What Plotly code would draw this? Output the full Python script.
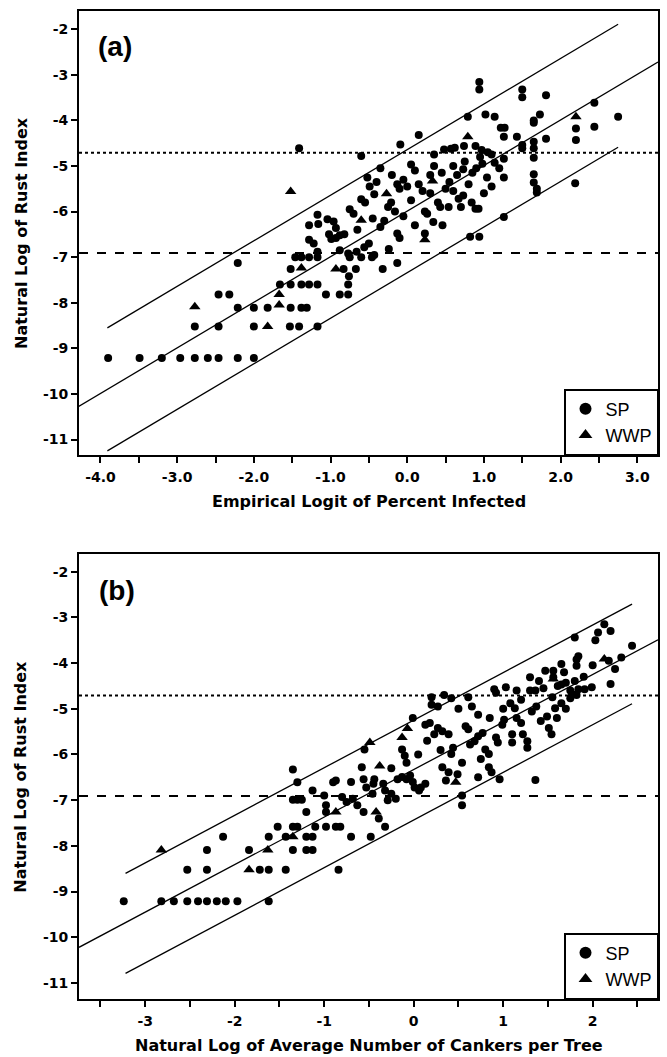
import plotly.graph_objects as go

# ---- panel (a): empirical logit of percent infected vs ln(rust index) ----
a_sp_x = [
    -3.9, -3.49, -3.2, -2.96, -2.77, -2.6, -2.46, -2.21, -2.0,
    -2.77, -2.46, -2.0, -1.53, -1.41, -1.17,
    -2.21, -2.0, -1.82, -1.52, -1.38, -1.31,
    -2.46, -2.32, -1.06, -0.88, -0.77,
    -1.66, -1.52, -1.38, -1.28, -1.17, -0.77,
    -0.76, -1.52, -0.83, -0.67, -0.32, -2.21, -0.13,
    -1.46, -1.38, -1.28, -1.17, -0.75, -0.6, -0.46,
    -0.88, -0.77, -0.66, -0.56, -0.5, -0.24, -0.43,
    -1.28, -1.17, -1.16, -1.04, -0.96, -0.93, -1.28, -1.22, -1.17, -1.02,
    -0.99, -0.93, -0.88, -0.82,
    -0.6, -0.55, -0.52, -0.49, -0.43, -0.4, -0.35, -0.25, -0.21, -0.16,
    -0.13, -0.1, 0.0, -0.13, -0.1, -0.2, -0.05,
    0.05, 0.1, 0.23, 0.26, 0.23, 0.34, 0.46, 0.4, 0.43, 0.5, 0.54, 0.15, 0.2, 0.3,
    0.55, 0.65, 0.73, 0.67, 0.73, 0.84, 0.89, 0.93, 0.82, 0.94, 0.9, 0.98,
    1.04, 1.14, 1.26, 1.26, 1.65, 1.65, 1.69, 1.69, 2.19, 0.6, 0.75, 0.85,
    0.48, 0.57, 0.62, 0.74, 0.89, 0.97, 1.05, 0.35, 0.15, -0.09, -0.6, -1.41,
    1.26, 1.22, 1.27, 1.26, 1.43, 1.5, 1.5, 1.65, 1.65, 1.73, 1.81, 1.81,
    1.5, 1.5, 1.65, 1.65, 1.65, 2.2, 2.2, 2.44, 2.44, 2.75,
    0.79, 0.94, 0.94, 1.02, 1.14,
    -0.7, -0.65, -0.45, -0.3, -0.05, 0.05, 0.1, 0.3, 0.35, 0.45,
    0.6, 0.7, 0.8, 1.0, 1.1, -0.35, -0.75, 0.95, 1.1, 1.2,
]
a_sp_y = [
    -9.21, -9.21, -9.21, -9.21, -9.21, -9.21, -9.21, -9.21, -9.21,
    -8.52, -8.52, -8.52, -8.52, -8.52, -8.52,
    -8.11, -8.11, -8.11, -8.11, -8.11, -8.11,
    -7.82, -7.82, -7.82, -7.82, -7.82,
    -7.6, -7.6, -7.6, -7.6, -7.6, -7.6,
    -7.42, -7.26, -7.26, -7.26, -7.26, -7.13, -7.13,
    -7.0, -7.0, -7.0, -7.0, -7.0, -7.0, -7.0,
    -6.85, -6.92, -6.88, -6.78, -6.7, -6.82, -6.95,
    -6.3, -6.07, -6.27, -6.17, -6.22, -6.36, -6.62, -6.7, -6.88, -6.5,
    -6.6, -6.58, -6.52, -6.5,
    -5.73, -5.8, -5.25, -5.45, -5.62, -5.35, -6.34, -5.9, -5.8, -6.0,
    -5.4, -5.5, -5.45, -6.48, -6.58, -5.2, -5.3,
    -4.97, -5.1, -6.0, -6.05, -6.48, -6.23, -6.3, -5.8, -5.9, -5.5, -5.9, -5.4, -5.55, -5.6,
    -5.35, -5.2, -5.07, -5.72, -5.65, -5.8, -5.94, -5.94, -6.55, -6.55, -5.05, -4.95,
    -5.25, -4.93, -5.25, -6.12, -5.18, -5.36, -5.5, -5.58, -5.38, -5.0, -4.9, -5.15,
    -4.64, -4.62, -4.6, -4.56, -4.56, -4.65, -4.7, -4.75, -4.32, -4.53, -4.78, -4.61,
    -4.84, -4.16, -4.16, -4.36, -4.36, -3.32, -3.49, -4.0, -4.05, -3.87, -3.45, -4.4,
    -4.54, -4.61, -4.47, -4.61, -4.82, -4.18, -4.43, -3.61, -4.14, -3.92,
    -3.92, -3.16, -3.32, -3.87, -3.92,
    -6.05, -6.4, -6.15, -6.2, -6.1, -5.75, -6.3, -5.2, -5.0, -5.15,
    -5.55, -5.9, -5.4, -5.6, -5.45, -5.05, -5.95, -4.8, -4.75, -5.05,
]
a_wwp_x = [-2.77, -1.82, -1.67, -1.67, -1.38, -0.93, -0.6, -1.52, -0.27, 0.23, 0.33, 0.79, 2.2]
a_wwp_y = [-8.09, -8.52, -8.05, -7.82, -7.24, -7.26, -6.19, -5.56, -5.61, -6.62, -5.33, -4.36, -3.92]

# ---- panel (b): ln(average cankers per tree) vs ln(rust index) ----
b_sp_x = [
    -3.24, -2.82, -2.68, -2.53, -2.41, -2.31, -2.2, -2.1, -1.97, -1.62,
    -2.53, -2.31, -1.72, -1.62, -1.43, -0.84,
    -2.31, -1.84, -1.35, -1.2, -1.13,
    -2.13, -1.62, -1.43, -1.2, -1.13, -0.7, -0.48,
    -1.52, -1.35, -1.3, -1.1, -0.98, -0.87, -0.82, -0.32,
    -1.2, -0.98, -0.56,
    -0.98, -1.35, -1.3, -1.35, -1.3, -1.25, -1.13, -0.9, -0.87, -0.8, -0.75,
    -0.68, -0.63, -0.58, -0.56, -0.53, -0.55, -0.46, -0.45, -0.44, -0.39,
    -0.34, -0.32, -0.29, -0.25, -0.2, -0.18, -0.13, -0.08, -0.13, -0.1,
    -0.08, -0.04, -0.01, 0.01, -0.01, 0.06, 0.08, 0.13, 0.2, 0.27,
    0.34, 0.42, 0.13, 0.18, 0.23, 0.27, 0.32, 0.39, 0.32, 0.39,
    0.36, 0.42, 0.44, 0.49, 0.54, 0.54, 0.54, 0.58, 0.61, 0.63,
    0.68, 0.72, 0.77, 0.8, 0.84, 0.72, 0.84, 0.87, 0.92, 0.94,
    0.99, 1.01, 1.08, 1.13, 1.15, 1.2, 1.22, 1.27, 1.32, 1.37,
    1.42, 1.49, 1.51, 1.54, 1.58, 1.65, 1.75, 1.82, 1.27, 1.1,
    1.1, 1.36, 0.96, 0.65, 0.72,
    0.2, 0.61, 0.9, 0.92, 1.03, 1.3, 1.3, 1.36, 1.4, 1.47,
    1.56, 1.56, 1.61, 1.65, 1.7, 1.65, 1.68, 1.75, 1.77, 1.8,
    1.82, 1.82, 1.84, 1.84, 1.91, 1.99, 1.8, 2.03, 2.06, 2.13,
    2.2, 2.18, 2.2, 2.25, 2.32, 2.44,
    1.15, 1.2, 1.45, 1.55, 1.6, 1.0, 0.85, 0.5, 0.15, 0.3,
    0.05, 1.7, 1.9, 2.0, 0.75, -0.25, -0.7, -1.0,
]
b_sp_y = [
    -9.21, -9.21, -9.21, -9.21, -9.21, -9.21, -9.21, -9.21, -9.21, -9.21,
    -8.52, -8.52, -8.52, -8.52, -8.52, -8.52,
    -8.09, -8.09, -8.09, -8.09, -8.09,
    -7.8, -7.8, -7.8, -7.8, -7.8, -7.8, -7.8,
    -7.58, -7.58, -7.58, -7.58, -7.58, -7.58, -7.58, -7.58,
    -7.26, -7.26, -7.26,
    -7.11, -6.33, -6.61, -6.99, -6.99, -6.99, -6.79, -6.61, -6.57, -6.93, -7.04,
    -6.97, -7.11, -6.28, -6.54, -6.72, -5.89, -6.86, -6.64, -6.54, -7.4,
    -6.64, -6.79, -7.0, -6.86, -6.97, -6.54, -6.49, -6.54, -5.89, -6.03,
    -6.18, -6.46, -6.6, -6.72, -5.2, -6.79, -6.72, -6.64, -4.91, -4.95,
    -4.7, -4.77, -5.35, -5.31, -5.56, -5.42, -5.49, -5.56, -6.28, -6.39,
    -6.57, -5.99, -5.85, -6.43, -6.18, -6.9, -7.11, -5.38, -5.45, -5.78,
    -5.71, -5.6, -5.53, -5.89, -5.99, -6.5, -6.28, -6.39, -5.63, -5.74,
    -5.35, -5.24, -4.88, -4.99, -5.2, -5.31, -5.56, -5.71, -5.06, -4.95,
    -5.27, -5.17, -5.42, -5.56, -4.99, -4.88, -4.77, -4.7, -5.85, -5.74,
    -5.56, -6.56, -6.54, -4.95, -5.13,
    -4.75, -4.75, -4.57, -4.65, -4.53, -4.31, -4.6, -4.6, -4.39, -4.17,
    -4.17, -4.31, -4.5, -4.47, -4.43, -4.02, -4.2, -4.6, -4.68, -3.44,
    -3.92, -4.06, -3.85, -4.57, -4.57, -4.53, -4.39, -3.5, -3.33, -3.15,
    -3.3, -3.95, -4.46, -4.13, -3.88, -3.62,
    -4.6, -4.8, -4.55, -4.75, -5.2, -5.0, -5.2, -5.0, -5.7, -5.9,
    -6.0, -5.0, -4.3, -4.05, -6.1, -6.3, -6.6, -6.9,
]
b_wwp_x = [-2.82, -1.84, -1.63, -1.35, -0.87, -0.42, -0.49, -0.38, -0.13, -0.07, 0.47, 1.56, 2.13]
b_wwp_y = [-8.09, -8.52, -8.09, -7.8, -7.26, -7.26, -5.74, -6.25, -5.63, -5.43, -6.61, -4.35, -3.91]

# fitted line and prediction limits (end points)
a_fit_x = [-4.29, 3.27]
a_fit_y = [-10.28, -2.72]
a_band_x = [-3.91, 2.75]
a_upper_y = [-8.55, -1.89]
a_lower_y = [-11.25, -4.59]

b_fit_x = [-3.74, 2.73]
b_fit_y = [-10.22, -3.49]
b_band_x = [-3.22, 2.44]
b_upper_y = [-8.6, -2.71]
b_lower_y = [-10.79, -4.89]

# reference levels of ln(rust index)
ref_dotted = -4.71
ref_dashed = -6.91

a_xticks = [-4.0, -3.5, -3.0, -2.5, -2.0, -1.5, -1.0, -0.5, 0.0, 0.5, 1.0, 1.5, 2.0, 2.5, 3.0]
a_xlabels = ["-4.0", "", "-3.0", "", "-2.0", "", "-1.0", "", "0.0", "", "1.0", "", "2.0", "", "3.0"]
b_xticks = [-3.5, -3.0, -2.5, -2.0, -1.5, -1.0, -0.5, 0.0, 0.5, 1.0, 1.5, 2.0, 2.5]
b_xlabels = ["", "-3", "", "-2", "", "-1", "", "0", "", "1", "", "2", ""]
yticks = [-2, -3, -4, -5, -6, -7, -8, -9, -10, -11]
ylabels = ["-2", "-3", "-4", "-5", "-6", "-7", "-8", "-9", "-10", "-11"]

fig = go.Figure()

panels = [
    ("x", "y", "legend", a_sp_x, a_sp_y, a_wwp_x, a_wwp_y,
     a_fit_x, a_fit_y, a_band_x, a_upper_y, a_lower_y),
    ("x2", "y2", "legend2", b_sp_x, b_sp_y, b_wwp_x, b_wwp_y,
     b_fit_x, b_fit_y, b_band_x, b_upper_y, b_lower_y),
]

for xa, ya, leg, spx, spy, wx, wy, fx, fy, bx, uy, ly in panels:
    for lx, lyv in [(fx, fy), (bx, uy), (bx, ly)]:
        fig.add_trace(go.Scatter(
            x=lx, y=lyv, mode="lines", xaxis=xa, yaxis=ya,
            line=dict(color="black", width=1.3), showlegend=False, hoverinfo="skip",
        ))
    fig.add_trace(go.Scatter(
        x=spx, y=spy, mode="markers", name="SP", xaxis=xa, yaxis=ya, legend=leg,
        marker=dict(symbol="circle", size=8, color="black"),
    ))
    fig.add_trace(go.Scatter(
        x=wx, y=wy, mode="markers", name="WWP", xaxis=xa, yaxis=ya, legend=leg,
        marker=dict(symbol="triangle-up", size=10, color="black"),
    ))
    for level, dash in [(ref_dotted, "dot"), (ref_dashed, "dash")]:
        fig.add_shape(type="line", xref=xa + " domain", yref=ya,
                      x0=0, x1=1, y0=level, y1=level,
                      line=dict(color="black", width=2, dash=dash))

tick_font = dict(family="DejaVu Sans", size=14, weight="bold", color="black")
title_font = dict(family="DejaVu Sans", size=16, weight="bold", color="black")
panel_font = dict(family="Liberation Sans", size=28, weight="bold", color="black")

axis_style = dict(
    showline=True, mirror=True, linecolor="black", linewidth=2,
    ticks="outside", ticklen=6, tickwidth=2, tickcolor="black",
    showgrid=False, zeroline=False, tickfont=tick_font, automargin=False,
)

legend_style = dict(
    xanchor="right", x=1, yanchor="bottom",
    bgcolor="white", bordercolor="black", borderwidth=1.5,
    font=dict(family="Liberation Sans", size=18, color="black"),
    itemsizing="constant",
)

text_common = dict(showarrow=False, xanchor="center", yanchor="middle")

fig.update_layout(
    width=667, height=1057,
    margin=dict(l=79, r=9, t=11, b=58),
    paper_bgcolor="white", plot_bgcolor="white",
    xaxis=dict(domain=[0, 1], range=[-4.28, 3.27], anchor="y",
               tickvals=a_xticks, ticktext=a_xlabels, ticklabelstandoff=2, **axis_style),
    yaxis=dict(domain=[0.5506, 1.0], range=[-11.34, -1.6], anchor="x",
               tickvals=yticks, ticktext=ylabels, ticklabelstandoff=0, **axis_style),
    xaxis2=dict(domain=[0, 1], range=[-3.74, 2.73], anchor="y2",
                tickvals=b_xticks, ticktext=b_xlabels, ticklabelstandoff=2, **axis_style),
    yaxis2=dict(domain=[0, 0.4501], range=[-11.35, -1.62], anchor="x2",
                tickvals=yticks, ticktext=ylabels, ticklabelstandoff=0, **axis_style),
    legend=dict(y=0.5506, **legend_style),
    legend2=dict(y=0.0, **legend_style),
    annotations=[
        dict(text="(a)", x=0.062, y=0.921, xref="x domain", yref="y domain",
             font=panel_font, **text_common),
        dict(text="(b)", x=0.066, y=0.9175, xref="x2 domain", yref="y2 domain",
             font=panel_font, **text_common),
        dict(text="Natural Log of Rust Index", x=-0.1002, y=0.7753, xref="paper", yref="paper",
             textangle=-90, font=title_font, **text_common),
        dict(text="Natural Log of Rust Index", x=-0.1002, y=0.225, xref="paper", yref="paper",
             textangle=-90, font=title_font, **text_common),
        dict(text="Empirical Logit of Percent Infected", x=0.5, y=0.504, xref="paper", yref="paper",
             font=title_font, **text_common),
        dict(text="Natural Log of Average Number of Cankers per Tree", x=0.5, y=-0.0466,
             xref="paper", yref="paper", font=title_font, **text_common),
    ],
)

# drop the default page margin so the figure sits at the window's corner
fig.write_html("out.html", config={"displayModeBar": False},
               post_script="document.body.style.margin='0px';")
